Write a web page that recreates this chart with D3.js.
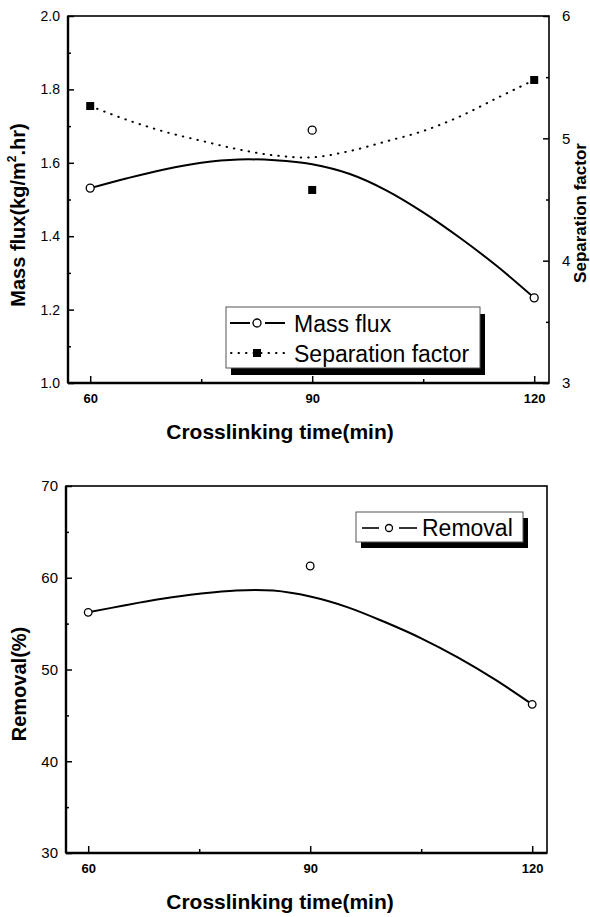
<!DOCTYPE html>
<html>
<head>
<meta charset="utf-8">
<script src="https://cdn.jsdelivr.net/npm/d3@7"></script>
<style>
  body { margin: 0; background: #fff; }
  svg { display: block; font-family: "Liberation Sans", Arial, sans-serif; }
</style>
</head>
<body>
<svg id="chart" width="590" height="917"></svg>
<script>
// measured points
const times = [60, 90, 120];
const massFlux = [1.531, 1.689, 1.232];
const sepFactor = [5.264, 4.578, 5.477];
const removal = [56.23, 61.28, 46.2];

// fitted curves
const fitTimes = [60, 65, 70, 75, 80, 85, 90, 95, 100, 105, 110, 115, 120];
const massFluxFit = [1.531, 1.558, 1.582, 1.600, 1.609, 1.607, 1.596, 1.570, 1.525, 1.465, 1.395, 1.318, 1.232];
const sepFactorFit = [5.264, 5.150, 5.055, 4.980, 4.910, 4.860, 4.845, 4.895, 4.975, 5.060, 5.180, 5.330, 5.477];
const removalFit = [56.23, 57.0, 57.7, 58.25, 58.62, 58.6, 57.95, 56.8, 55.2, 53.4, 51.3, 48.9, 46.2];

// ticks
const xTicks = [60, 90, 120];
const xMinor = [75, 105];
const fluxTicks = [1.0, 1.2, 1.4, 1.6, 1.8, 2.0];
const fluxMinor = [1.1, 1.3, 1.5, 1.7, 1.9];
const sepTicks = [3, 4, 5, 6];
const sepMinor = [3.5, 4.5, 5.5];
const removalTicks = [30, 40, 50, 60, 70];
const removalMinor = [35, 45, 55, 65];

const svg = d3.select("#chart");

function styleAxis(g, size) {
  g.select(".domain").remove();
  g.selectAll(".tick line").attr("stroke", "#000").attr("stroke-width", 1.5);
  g.attr("font-family", null).attr("font-size", size);
  g.selectAll("text").attr("fill", "#000");
}

function panel(top, bottom, left, right) {
  const x = d3.scaleLinear().domain([57, 122]).range([left, right]);
  svg.append("rect")
    .attr("x", left).attr("y", top)
    .attr("width", right - left).attr("height", bottom - top)
    .attr("fill", "none").attr("stroke", "#000").attr("stroke-width", 1.6);
  svg.append("line").attr("x1", left).attr("x2", left).attr("y1", top).attr("y2", bottom)
    .attr("stroke", "#000").attr("stroke-width", 2.4);
  svg.append("line").attr("x1", left).attr("x2", right).attr("y1", bottom).attr("y2", bottom)
    .attr("stroke", "#000").attr("stroke-width", 2.4);

  const gx = svg.append("g").attr("transform", `translate(0,${bottom})`)
    .call(d3.axisBottom(x).tickValues(xTicks).tickSize(-7));
  styleAxis(gx, 13);
  gx.selectAll("text").attr("y", 20).attr("dy", 0).attr("font-weight", "bold");
  const gxm = svg.append("g").attr("transform", `translate(0,${bottom})`)
    .call(d3.axisBottom(x).tickValues(xMinor).tickSize(-4).tickFormat(""));
  styleAxis(gxm, 13);

  svg.append("text")
    .attr("x", 280).attr("y", bottom + 56)
    .attr("text-anchor", "middle").attr("font-size", 21).attr("font-weight", "bold")
    .text("Crosslinking time(min)");
  return x;
}

// ---------- top panel ----------
const x1 = panel(16, 383, 68, 549);
const yFlux = d3.scaleLinear().domain([1.0, 2.0]).range([383, 16]);
const ySep = d3.scaleLinear().domain([3, 6]).range([383, 16]);

const gl = svg.append("g").attr("transform", "translate(68,0)")
  .call(d3.axisLeft(yFlux).tickValues(fluxTicks).tickSize(-6).tickPadding(8).tickFormat(d3.format(".1f")));
styleAxis(gl, 14);
const glm = svg.append("g").attr("transform", "translate(68,0)")
  .call(d3.axisLeft(yFlux).tickValues(fluxMinor).tickSize(-3).tickFormat(""));
styleAxis(glm, 14);

const gr = svg.append("g").attr("transform", "translate(549,0)")
  .call(d3.axisRight(ySep).tickValues(sepTicks).tickSize(-6).tickPadding(13).tickFormat(d3.format("d")));
styleAxis(gr, 15);
const grm = svg.append("g").attr("transform", "translate(549,0)")
  .call(d3.axisRight(ySep).tickValues(sepMinor).tickSize(-3).tickFormat(""));
styleAxis(grm, 15);

const leftTitle = svg.append("text")
  .attr("transform", "translate(25,215) rotate(-90)")
  .attr("text-anchor", "middle").attr("font-size", 20).attr("font-weight", "bold");
leftTitle.append("tspan").text("Mass  flux(kg/m");
leftTitle.append("tspan").attr("font-size", 12).attr("dy", -9).text("2");
leftTitle.append("tspan").attr("dy", 9).text(".hr)");

svg.append("text")
  .attr("transform", "translate(586,213) rotate(-90)")
  .attr("text-anchor", "middle").attr("font-size", 17).attr("font-weight", "bold")
  .text("Separation factor");

const fluxLine = d3.line().x((d, i) => x1(fitTimes[i])).y(d => yFlux(d)).curve(d3.curveCatmullRom);
const sepLine = d3.line().x((d, i) => x1(fitTimes[i])).y(d => ySep(d)).curve(d3.curveCatmullRom);

svg.append("path").attr("d", fluxLine(massFluxFit))
  .attr("fill", "none").attr("stroke", "#000").attr("stroke-width", 2);
svg.append("path").attr("d", sepLine(sepFactorFit))
  .attr("fill", "none").attr("stroke", "#000").attr("stroke-width", 2)
  .attr("stroke-linecap", "round").attr("stroke-dasharray", "0.5 7");

svg.selectAll(".fluxPt").data(massFlux).join("circle")
  .attr("cx", (d, i) => x1(times[i])).attr("cy", d => yFlux(d)).attr("r", 4)
  .attr("fill", "#fff").attr("stroke", "#000").attr("stroke-width", 1.3);
svg.selectAll(".sepPt").data(sepFactor).join("rect")
  .attr("x", (d, i) => x1(times[i]) - 4).attr("y", d => ySep(d) - 4)
  .attr("width", 8).attr("height", 8).attr("fill", "#000");

// top legend
svg.append("rect").attr("x", 231).attr("y", 314).attr("width", 254).attr("height", 61).attr("fill", "#000");
svg.append("rect").attr("x", 226).attr("y", 307).attr("width", 254).attr("height", 61)
  .attr("fill", "#fff").attr("stroke", "#555").attr("stroke-width", 1);
svg.append("line").attr("x1", 230).attr("x2", 250).attr("y1", 323).attr("y2", 323).attr("stroke", "#000").attr("stroke-width", 2);
svg.append("line").attr("x1", 265).attr("x2", 285).attr("y1", 323).attr("y2", 323).attr("stroke", "#000").attr("stroke-width", 2);
svg.append("circle").attr("cx", 257).attr("cy", 323).attr("r", 4)
  .attr("fill", "#fff").attr("stroke", "#000").attr("stroke-width", 1.3);
svg.append("line").attr("x1", 231).attr("x2", 285).attr("y1", 353).attr("y2", 353)
  .attr("stroke", "#000").attr("stroke-width", 2).attr("stroke-linecap", "round").attr("stroke-dasharray", "0.5 7");
svg.append("rect").attr("x", 253).attr("y", 349).attr("width", 8).attr("height", 8).attr("fill", "#000");
svg.append("text").attr("x", 294).attr("y", 332).attr("font-size", 23).text("Mass flux");
svg.append("text").attr("x", 294).attr("y", 362).attr("font-size", 23).text("Separation factor");

// ---------- bottom panel ----------
const x2 = panel(486, 853, 66, 547);
const yRem = d3.scaleLinear().domain([30, 70]).range([853, 486]);

const gb = svg.append("g").attr("transform", "translate(66,0)")
  .call(d3.axisLeft(yRem).tickValues(removalTicks).tickSize(-6).tickPadding(8));
styleAxis(gb, 15);
const gbm = svg.append("g").attr("transform", "translate(66,0)")
  .call(d3.axisLeft(yRem).tickValues(removalMinor).tickSize(-3).tickFormat(""));
styleAxis(gbm, 15);

svg.append("text")
  .attr("transform", "translate(26,684) rotate(-90)")
  .attr("text-anchor", "middle").attr("font-size", 20).attr("font-weight", "bold")
  .text("Removal(%)");

const remLine = d3.line().x((d, i) => x2(fitTimes[i])).y(d => yRem(d)).curve(d3.curveCatmullRom);
svg.append("path").attr("d", remLine(removalFit))
  .attr("fill", "none").attr("stroke", "#000").attr("stroke-width", 2);
svg.selectAll(".remPt").data(removal).join("circle")
  .attr("cx", (d, i) => x2(times[i])).attr("cy", d => yRem(d)).attr("r", 3.8)
  .attr("fill", "#fff").attr("stroke", "#000").attr("stroke-width", 1.3);

// bottom legend
svg.append("rect").attr("x", 361).attr("y", 518).attr("width", 167).attr("height", 30).attr("fill", "#000");
svg.append("rect").attr("x", 356).attr("y", 512).attr("width", 167).attr("height", 30)
  .attr("fill", "#fff").attr("stroke", "#555").attr("stroke-width", 1);
svg.append("line").attr("x1", 362).attr("x2", 379).attr("y1", 528).attr("y2", 528).attr("stroke", "#000").attr("stroke-width", 1.6);
svg.append("line").attr("x1", 399).attr("x2", 417).attr("y1", 528).attr("y2", 528).attr("stroke", "#000").attr("stroke-width", 1.6);
svg.append("circle").attr("cx", 389).attr("cy", 528).attr("r", 3.5)
  .attr("fill", "#fff").attr("stroke", "#000").attr("stroke-width", 1.3);
svg.append("text").attr("x", 422).attr("y", 536).attr("font-size", 23).text("Removal");
</script>
</body>
</html>
